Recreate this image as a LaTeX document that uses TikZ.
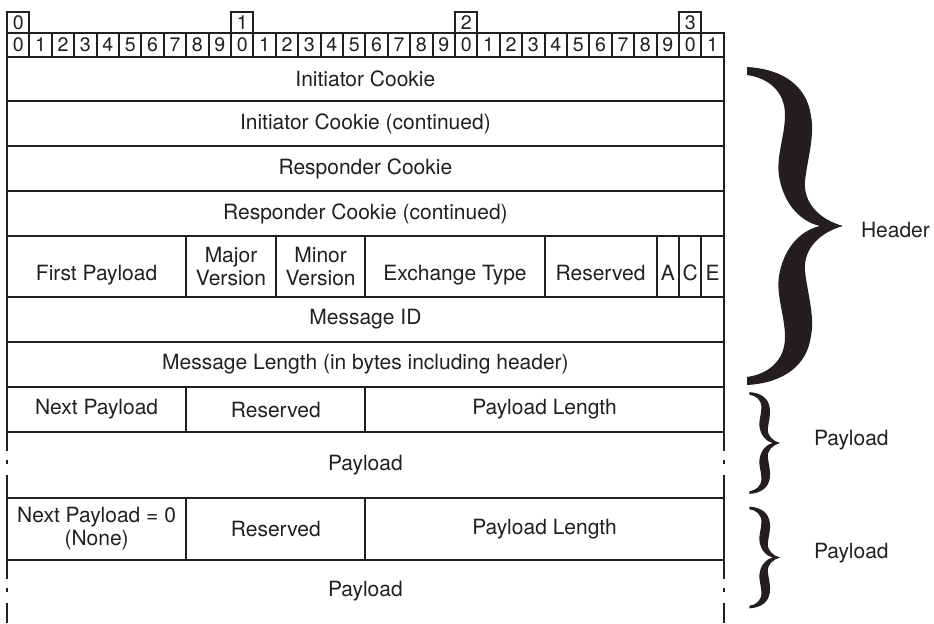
\documentclass[tikz,border=0pt]{standalone}
\usepackage{fontspec}
\setmainfont{TeX Gyre Heros}
\definecolor{ink}{RGB}{35,31,32}
\tikzset{
  field/.style={draw, inner sep=0pt, align=center, font=\fontsize{10.5}{11.5}\selectfont},
  bits/.style={minimum width=#1*11.2pt},
  lowtext/.style={text height=13.5pt, text depth=0pt},
  bitbox/.style={draw, inner sep=0pt, minimum width=11.2pt, font=\fontsize{9.8}{10}\selectfont},
  side/.style={inner sep=0pt, font=\fontsize{10.5}{11.5}\selectfont},
  pics/curly/.style={code={
    \fill (0,0) .. controls (-22,-6) and (-40,-22) .. (-38,-45)
      .. controls (-36,-65) and (-28,-90) .. (-32,-110)
      .. controls (-36,-140) and (-60,-157) .. (-96,-159)
      -- (-96,-151)
      .. controls (-75,-148) and (-58,-135) .. (-58,-111)
      .. controls (-58,-90) and (-67,-70) .. (-64,-50)
      .. controls (-60,-25) and (-45,-5) .. (-23,0)
      .. controls (-45,5) and (-60,25) .. (-64,50)
      .. controls (-67,70) and (-58,90) .. (-58,111)
      .. controls (-58,135) and (-75,148) .. (-96,151)
      -- (-96,159)
      .. controls (-60,157) and (-36,140) .. (-32,110)
      .. controls (-28,90) and (-36,65) .. (-38,45)
      .. controls (-40,22) and (-22,6) .. (0,0) -- cycle;
  }}
}
\begin{document}
\begin{tikzpicture}[x=0.5pt, y=-0.5pt, line width=1pt, color=ink]
  \useasboundingbox (0,0) rectangle (934,623);
  % bit ruler
  \foreach \t in {0,...,3}
    \node[bitbox, minimum height=10.5pt] (ten\t) at ({7+(10*\t+0.5)*22.4},22.5) {\t};
  \foreach \b [evaluate=\b as \d using {int(mod(\b,10))}] in {0,...,31}
    \node[bitbox, minimum height=12pt] (bit\b) at ({7+(\b+0.5)*22.4},45) {\d};
  % header
  \node[field, bits=32, minimum height=22pt] (icookie) at (365.4,79) {Initiator Cookie};
  \node[field, bits=32, minimum height=22.5pt] (icookiec) at (365.4,123.5) {Initiator Cookie (continued)};
  \node[field, bits=32, minimum height=22.5pt] (rcookie) at (365.4,168.5) {Responder Cookie};
  \node[field, bits=32, minimum height=22.5pt] (rcookiec) at (365.4,213.5) {Responder Cookie (continued)};
  \node[field, lowtext, bits=8, minimum height=30.5pt] (firstpl) at (96.6,266.5) {First Payload};
  \node[field, bits=4, minimum height=30.5pt] (majver) at (231,266.5) {Major\\Version};
  \node[field, bits=4, minimum height=30.5pt] (minver) at (320.6,266.5) {Minor\\Version};
  \node[field, lowtext, bits=8, minimum height=30.5pt] (xtype) at (455,266.5) {Exchange Type};
  \node[field, lowtext, bits=5, minimum height=30.5pt] (hresv) at (600.6,266.5) {Reserved};
  \node[field, lowtext, bits=1, minimum height=30.5pt] (flaga) at (667.8,266.5) {A};
  \node[field, lowtext, bits=1, minimum height=30.5pt] (flagc) at (690.2,266.5) {C};
  \node[field, lowtext, bits=1, minimum height=30.5pt] (flage) at (712.6,266.5) {E};
  \node[field, bits=32, minimum height=22.5pt] (msgid) at (365.4,319.5) {Message ID};
  \node[field, bits=32, minimum height=22.5pt] (msglen) at (365.4,364.5) {Message Length (in bytes including header)};
  % payloads
  \node[field, bits=8, minimum height=22.5pt] (nextpl) at (96.6,409.5) {Next Payload};
  \node[field, bits=8, minimum height=22.5pt] (presv) at (275.8,409.5) {Reserved};
  \node[field, bits=16, minimum height=22.5pt] (pllen) at (544.6,409.5) {Payload Length};
  \node[side] (pbody) at (365.4,465) {Payload};
  \node[field, bits=8, minimum height=31pt] (lastpl) at (96.6,529) {Next Payload = 0\\(None)};
  \node[field, bits=8, minimum height=31pt] (lresv) at (275.8,529) {Reserved};
  \node[field, bits=16, minimum height=31pt] (lpllen) at (544.6,529) {Payload Length};
  \node[side] (lbody) at (365.4,591.5) {Payload};
  \foreach \T/\B in {432/498,560/623}
    \foreach \x in {7,723.8}
      \draw (\x,\T) -- (\x,\T+19) (\x,\T+28) -- (\x,\T+32) (\x,\T+43) -- (\x,\B);
  % braces
  \pic at (843,226) {curly};
  \pic[scale=0.32] at (780,443) {curly};
  \pic[scale=0.32] at (780,557.5) {curly};
  \node[side, anchor=base west] (hdr) at (860,237) {Header};
  \node[side, anchor=base west] (plA) at (813,445) {Payload};
  \node[side, anchor=base west] (plB) at (813,558) {Payload};
\end{tikzpicture}
\end{document}
